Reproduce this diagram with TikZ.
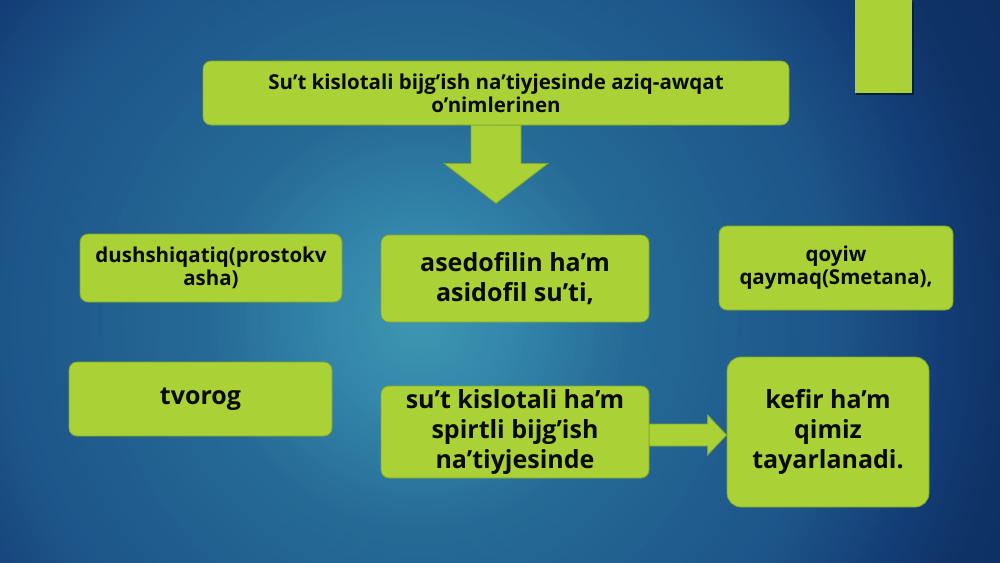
\documentclass[tikz,border=0pt]{standalone}
\usepackage{fontspec}
\setmainfont{Open Sans}
\usetikzlibrary{calc}
\definecolor{boxg}{HTML}{AAD135}
\definecolor{boxe}{HTML}{83A62A}
\definecolor{txt}{HTML}{0A0A0A}
\definecolor{bga}{HTML}{3D97B1}
\definecolor{bgb}{HTML}{3385AA}
\definecolor{bgc}{HTML}{256A96}
\definecolor{bgd}{HTML}{1D5589}
\definecolor{bge}{HTML}{133C75}
\definecolor{bgf}{HTML}{0F3366}
\definecolor{bgg}{HTML}{0B2B5C}
\tikzset{
  gbox/.style={draw=boxe, line width=0.8pt, fill=boxg, rounded corners=8pt, align=center, text=txt, font=\bfseries, inner sep=0pt},
  bigtext/.style={font=\fontsize{25}{30}\selectfont\bfseries},
  smalltext/.style={font=\fontsize{20.5}{23}\selectfont\bfseries},
  blockarrow/.style={draw=boxe, line width=0.8pt, fill=boxg}
}
\begin{document}
\begin{tikzpicture}[x=1pt,y=-1pt]
\useasboundingbox (0,0) rectangle (1000,562);
\begin{scope}
\clip (0,0) rectangle (1000,562);
\fill[bgg] (0,0) rectangle (1000,562);
\foreach \ra/\rb/\ca/\cb in {720/590/bgg/bgf, 590/530/bgf/bge, 530/420/bge/bgd, 420/215/bgd/bgc, 215/100/bgc/bgb, 100/0/bgb/bga}{
  \foreach \k in {0,...,19}{
    \pgfmathsetmacro\rr{\ra-(\ra-\rb)*\k/20}
    \pgfmathtruncatemacro\pp{100*\k/20}
    \fill[\cb!\pp!\ca] (420,320) circle (\rr);
  }
}
\end{scope}
% top right bar
\fill[black!40!bgf] (856,1.5) rectangle (913.5,94.5);
\fill[boxg] (855,0) rectangle (912,93);
% boxes
\node[gbox, smalltext, minimum width=586pt, minimum height=64pt] (top) at (496,93) {Su’t kislotali bijg’ish na’tiyjesinde aziq-awqat\\o’nimlerinen};
\node[gbox, smalltext, minimum width=262pt, minimum height=68pt] (dush) at (211,268) {dushshiqatiq(prostokv\\asha)};
\node[gbox, bigtext, minimum width=268pt, minimum height=87pt] (ased) at (515,278.5) {asedofilin ha’m\\asidofil su’ti,};
\node[gbox, smalltext, minimum width=234pt, minimum height=84pt] (qoy) at (836,268) {qoyiw\\qaymaq(Smetana),};
\node[gbox, bigtext, minimum width=263pt, minimum height=74pt] (tvo) at (200.5,399) {tvorog};
\node[gbox, bigtext, minimum width=268pt, minimum height=92pt] (sut) at (515,432) {su’t kislotali ha’m\\spirtli bijg’ish\\na’tiyjesinde};
\node[gbox, bigtext, rounded corners=14pt, minimum width=202pt, minimum height=150pt] (kef) at (828,432) {kefir ha’m\\qimiz\\tayarlanadi.};
% down arrow
\draw[blockarrow] ($(top.south)+(-25,0)$) -- ($(top.south)+(-25,38)$) -- ($(top.south)+(-52,38)$) -- ($(top.south)+(0,78)$) -- ($(top.south)+(52,38)$) -- ($(top.south)+(25,38)$) -- ($(top.south)+(25,0)$);
% right arrow
\coordinate (rs) at ($(sut.east)+(0,3)$);
\coordinate (re) at ($(kef.west)+(0,3)$);
\draw[blockarrow] ($(rs)+(0,-11)$) -- ($(re)+(-19,-11)$) -- ($(re)+(-19,-20)$) -- (re) -- ($(re)+(-19,20)$) -- ($(re)+(-19,11)$) -- ($(rs)+(0,11)$);
\end{tikzpicture}
\end{document}
